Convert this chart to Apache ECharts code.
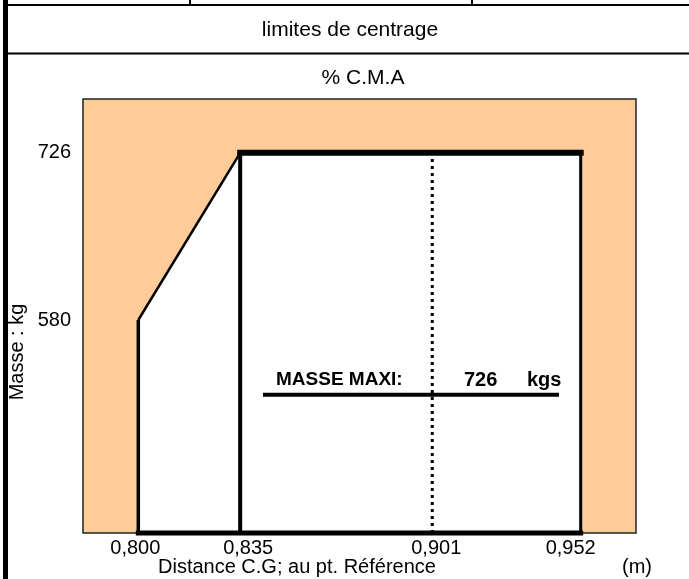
<!DOCTYPE html>
<html>
<head>
<meta charset="utf-8">
<title>limites de centrage</title>
<script src="https://cdn.jsdelivr.net/npm/echarts@6/dist/echarts.min.js"></script>
<style>
  html, body { margin: 0; padding: 0; background: #fff; }
  #chart { width: 689px; height: 579px; }
</style>
</head>
<body>
<div id="chart"></div>
<script>
const xTicks = [0.800, 0.835, 0.901, 0.952];
const yTicks = [580, 726];
const envX = [0.800, 0.800, 0.835, 0.952, 0.952]; // enveloppe de centrage
const envY = [394, 580, 726, 726, 394];
const masseMaxi = 726;
const cgRef = 0.901;
const masseMin = 394;

const font = "Liberation Sans, Arial, sans-serif";

const pt = (i) => [envX[i], envY[i]];

const seg = (data, width, type, cap) => ({
  type: "line",
  data: data,
  symbol: "none",
  silent: true,
  clip: false,
  animation: false,
  lineStyle: { color: "#000", width: width, type: type || "solid", cap: cap || "butt" },
});

// petit décalage des libellés comme sur le document d'origine
const labelStyle = { 0.8: "l3", 0.835: "r8", 0.901: "r4", 0.952: "l10" };

const txt = (text, x, y, size, align, bold) => ({
  type: "text",
  z: 10,
  style: {
    text: text,
    x: x,
    y: y,
    textAlign: align || "center",
    textVerticalAlign: "middle",
    font: (bold ? "bold " : "") + size + "px " + font,
    fill: "#000",
  },
});

const chartDom = document.getElementById("chart");
const myChart = echarts.init(chartDom);

const option = {
  animation: false,
  grid: {
    left: 83,
    right: 53,
    top: 99,
    bottom: 46,
    show: true,
    backgroundColor: "#FFCC99",
    borderColor: "#222",
    borderWidth: 1.5,
  },
  xAxis: {
    type: "value",
    min: 0.781,
    max: 0.971,
    axisLine: { show: false },
    axisTick: { show: false },
    splitLine: { show: false },
    axisLabel: {
      customValues: xTicks,
      margin: 5,
      color: "#000",
      fontFamily: font,
      fontSize: 20,
      formatter: (v) => {
        const s = labelStyle[Math.round(v * 1000) / 1000];
        const t = v.toFixed(3).replace(".", ",");
        return s ? "{" + s + "|" + t + "}" : t;
      },
      rich: {
        l3: { padding: [0, 6, 0, 0], fontSize: 20, fontFamily: font, color: "#000" },
        r8: { padding: [0, 0, 0, 16], fontSize: 20, fontFamily: font, color: "#000" },
        r4: { padding: [0, 0, 0, 8], fontSize: 20, fontFamily: font, color: "#000" },
        l10: { padding: [0, 20, 0, 0], fontSize: 20, fontFamily: font, color: "#000" },
      },
    },
  },
  yAxis: {
    type: "value",
    min: 394,
    max: 773,
    axisLine: { show: false },
    axisTick: { show: false },
    splitLine: { show: false },
    axisLabel: {
      customValues: yTicks,
      margin: 12,
      color: "#000",
      fontFamily: font,
      fontSize: 20,
    },
  },
  series: [
    {
      // zone autorisée (blanc)
      type: "line",
      data: envX.map((x, i) => pt(i)),
      symbol: "none",
      silent: true,
      animation: false,
      lineStyle: { width: 0, opacity: 0 },
      areaStyle: { color: "#fff", opacity: 1 },
    },
    seg([pt(0), pt(1)], 3.5),
    seg([pt(1), pt(2)], 2.5),
    seg([pt(3), pt(4)], 3),
    seg([[envX[2], masseMin], [envX[2], masseMaxi]], 4),
    seg([[cgRef, masseMin], [cgRef, masseMaxi]], 3, [3, 4]),
    seg([pt(2), pt(3)], 6, "solid", "square"),
    seg([pt(0), pt(4)], 5, "solid", "square"),
  ],
  graphic: [
    // cadre du formulaire
    { type: "rect", z: 10, shape: { x: 3, y: 0, width: 5, height: 579 }, style: { fill: "#000" } },
    { type: "line", z: 10, shape: { x1: 3, y1: 5, x2: 689, y2: 5 }, style: { stroke: "#000", lineWidth: 2 } },
    { type: "line", z: 10, shape: { x1: 3, y1: 53.5, x2: 689, y2: 53.5 }, style: { stroke: "#000", lineWidth: 2 } },
    { type: "line", z: 10, shape: { x1: 190, y1: 0, x2: 190, y2: 6 }, style: { stroke: "#000", lineWidth: 2 } },
    { type: "line", z: 10, shape: { x1: 472, y1: 0, x2: 472, y2: 6 }, style: { stroke: "#000", lineWidth: 2 } },
    txt("limites de centrage", 350, 30, 21),
    txt("% C.M.A", 363, 78, 21),
    {
      type: "text",
      z: 10,
      x: 17,
      y: 352,
      rotation: Math.PI / 2,
      style: { text: "Masse : kg", x: 0, y: 0, textAlign: "center", textVerticalAlign: "middle", font: "20px " + font, fill: "#000" },
    },
    txt("Distance C.G; au pt. Référence", 158, 567, 20, "left"),
    txt("(m)", 637, 567, 20),
    // masse maxi
    { type: "line", z: 10, shape: { x1: 263, y1: 394.7, x2: 559, y2: 394.7 }, style: { stroke: "#000", lineWidth: 4 } },
    txt("MASSE MAXI:", 276, 380, 19, "left", true),
    txt(String(masseMaxi), 464, 380, 20, "left", true),
    txt("kgs", 527, 380, 20, "left", true),
  ],
};

myChart.setOption(option);
</script>
</body>
</html>
